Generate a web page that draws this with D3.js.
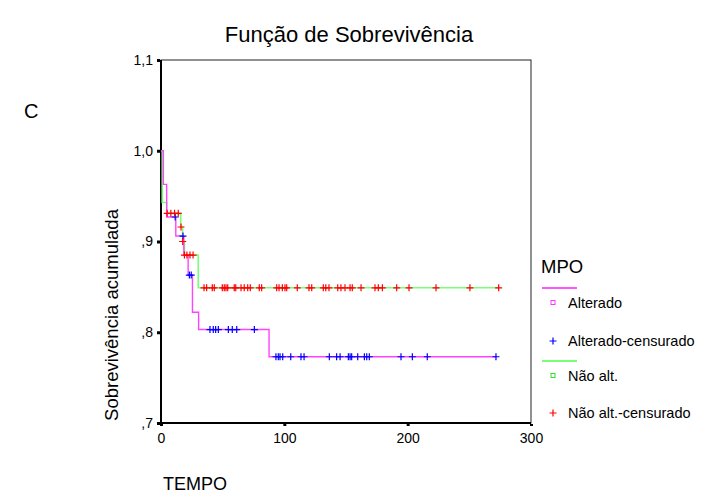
<!DOCTYPE html>
<html>
<head>
<meta charset="utf-8">
<script src="https://cdn.jsdelivr.net/npm/d3@7"></script>
<style>
  body { margin: 0; background: #fff; }
  text { font-family: "Liberation Sans", Arial, sans-serif; fill: #000; }
</style>
</head>
<body>
<svg id="chart" width="701" height="497"></svg>
<script>
// step curves (time of drop, survival after drop)
const altTimes = [0, 1.9, 4.6, 12, 18.5, 22, 25.5, 30.5, 87.6];
const altSurv = [1, 0.963, 0.927, 0.906, 0.885, 0.863, 0.822, 0.803, 0.773];
const altEnd = 272;
const naoTimes = [0, 1, 4.6, 16, 17.5, 19, 30.2];
const naoSurv = [1, 0.943, 0.931, 0.916, 0.9, 0.885, 0.849];
const naoEnd = 274.5;

// censored times
const altCens = [11.5, 17.8, 23, 24.5, 39.7, 42.4, 44.3, 46.5, 54.6, 57.8, 61.4, 75.7,
  93.2, 95.1, 96.5, 98.7, 105.2, 113.5, 116, 136.5, 142.4, 145.2, 151.9, 153.3, 154.6,
  159.5, 164.9, 166.8, 168.9, 194.6, 203.8, 215.9, 271.6];
const naoCens = [5, 8, 11, 14, 16.2, 17.6, 19, 21, 23.5, 26, 34.9, 37, 41.6, 43.2, 49.7,
  51.3, 52.7, 54.1, 59.4, 60.6, 64.9, 67.5, 70.3, 72.4, 79.7, 81.6, 93.8, 95.7, 98.4,
  100.5, 101.9, 110.5, 120, 122.2, 131.6, 133.6, 136.2, 143.3, 145.9, 149.2, 153.3, 155.1,
  162.2, 173.5, 176.2, 179.5, 191.1, 201.1, 223, 250.5, 273.8];

const xTicks = [0, 100, 200, 300];
const yTicks = [0.7, 0.8, 0.9, 1.0, 1.1];
const yTickLabels = [",7", ",8", ",9", "1,0", "1,1"];

const legendItems = [
  { kind: "line", color: "#ff55ff" },
  { kind: "square", color: "#ff33ff", label: "Alterado" },
  { kind: "plus", color: "#0000ff", label: "Alterado-censurado" },
  { kind: "line", color: "#77ff77" },
  { kind: "square", color: "#33dd33", label: "Não alt." },
  { kind: "plus", color: "#ff0000", label: "Não alt.-censurado" }
];

const svg = d3.select("#chart");
const x = d3.scaleLinear().domain([0, 300]).range([161, 531]);
const y = d3.scaleLinear().domain([0.7, 1.1]).range([423, 60]);

function survAt(times, surv, t) {
  return surv[d3.bisectRight(times, t) - 1];
}

// frame
svg.append("rect")
  .attr("x", x(0)).attr("y", y(1.1))
  .attr("width", x(300) - x(0)).attr("height", y(0.7) - y(1.1))
  .attr("fill", "none").attr("stroke", "#222").attr("stroke-width", 1);
svg.append("line")
  .attr("x1", x(0)).attr("x2", x(0)).attr("y1", y(1.1)).attr("y2", y(0.7) + 1)
  .attr("stroke", "#000").attr("stroke-width", 2);
svg.append("line")
  .attr("x1", x(0) - 1).attr("x2", x(300)).attr("y1", y(0.7)).attr("y2", y(0.7))
  .attr("stroke", "#000").attr("stroke-width", 2);

// ticks
const yAxis = d3.axisLeft(y).tickValues(yTicks).tickSize(3).tickPadding(4)
  .tickFormat((d, i) => yTickLabels[i]);
const gy = svg.append("g").attr("transform", `translate(${x(0) - 1},0)`).call(yAxis);
gy.select(".domain").remove();
gy.selectAll(".tick line").attr("stroke-width", 3);
gy.selectAll("text").style("font-size", "14px").style("font-family", "Liberation Sans, Arial, sans-serif");

const xAxis = d3.axisBottom(x).tickValues(xTicks).tickSize(2).tickPadding(7);
const gx = svg.append("g").attr("transform", `translate(0,${y(0.7) + 1})`).call(xAxis);
gx.select(".domain").remove();
gx.selectAll(".tick line").attr("stroke-width", 3);
gx.selectAll("text").style("font-size", "14px").style("font-family", "Liberation Sans, Arial, sans-serif");

// curves
const stepLine = d3.line().curve(d3.curveStepAfter).x(d => x(d[0])).y(d => y(d[1]));
const altPts = altTimes.map((t, i) => [t, altSurv[i]]).concat([[altEnd, altSurv[altSurv.length - 1]]]);
const naoPts = naoTimes.map((t, i) => [t, naoSurv[i]]).concat([[naoEnd, naoSurv[naoSurv.length - 1]]]);

svg.append("path").attr("d", stepLine(naoPts))
  .attr("fill", "none").attr("stroke", "#77ff77").attr("stroke-width", 1.6);
svg.append("path").attr("d", stepLine(altPts))
  .attr("fill", "none").attr("stroke", "#ff44ff").attr("stroke-width", 1.4);

function plus(cx, cy, r) {
  return `M${cx - r},${cy}H${cx + r}M${cx},${cy - r}V${cy + r}`;
}

svg.append("g").selectAll("path").data(altCens).join("path")
  .attr("d", t => plus(x(t), y(survAt(altTimes, altSurv, t)), 3.5))
  .attr("stroke", "#0000ff").attr("stroke-width", 1.2).attr("fill", "none");
svg.append("g").selectAll("path").data(naoCens).join("path")
  .attr("d", t => plus(x(t), y(survAt(naoTimes, naoSurv, t)), 3.5))
  .attr("stroke", "#ff0000").attr("stroke-width", 1.2).attr("fill", "none");

// texts
svg.append("text").attr("x", 349).attr("y", 42).attr("text-anchor", "middle")
  .style("font-size", "22px").text("Função de Sobrevivência");
svg.append("text").attr("x", 24).attr("y", 118).style("font-size", "20px").text("C");
svg.append("text").attr("transform", "translate(118,315) rotate(-90)")
  .attr("text-anchor", "middle").style("font-size", "18.5px").text("Sobrevivência acumulada");
svg.append("text").attr("x", 163).attr("y", 490).style("font-size", "18px").text("TEMPO");

// legend
const lg = svg.append("g");
lg.append("text").attr("x", 541).attr("y", 273).style("font-size", "18.5px").text("MPO");
const rowY = [288, 303, 341, 361, 376, 413];
legendItems.forEach((item, i) => {
  const cy = rowY[i];
  if (item.kind === "line") {
    lg.append("line").attr("x1", 542).attr("x2", 577).attr("y1", cy).attr("y2", cy)
      .attr("stroke", item.color).attr("stroke-width", 2);
  } else if (item.kind === "square") {
    lg.append("rect").attr("x", 551).attr("y", cy - 2.5).attr("width", 4).attr("height", 4)
      .attr("fill", "none").attr("stroke", item.color).attr("stroke-width", 1);
  } else {
    lg.append("path").attr("d", plus(553, cy, 3.5))
      .attr("stroke", item.color).attr("stroke-width", 1.2);
  }
  if (item.label) {
    lg.append("text").attr("x", 568).attr("y", cy + 5).style("font-size", "14.5px").text(item.label);
  }
});
</script>
</body>
</html>
